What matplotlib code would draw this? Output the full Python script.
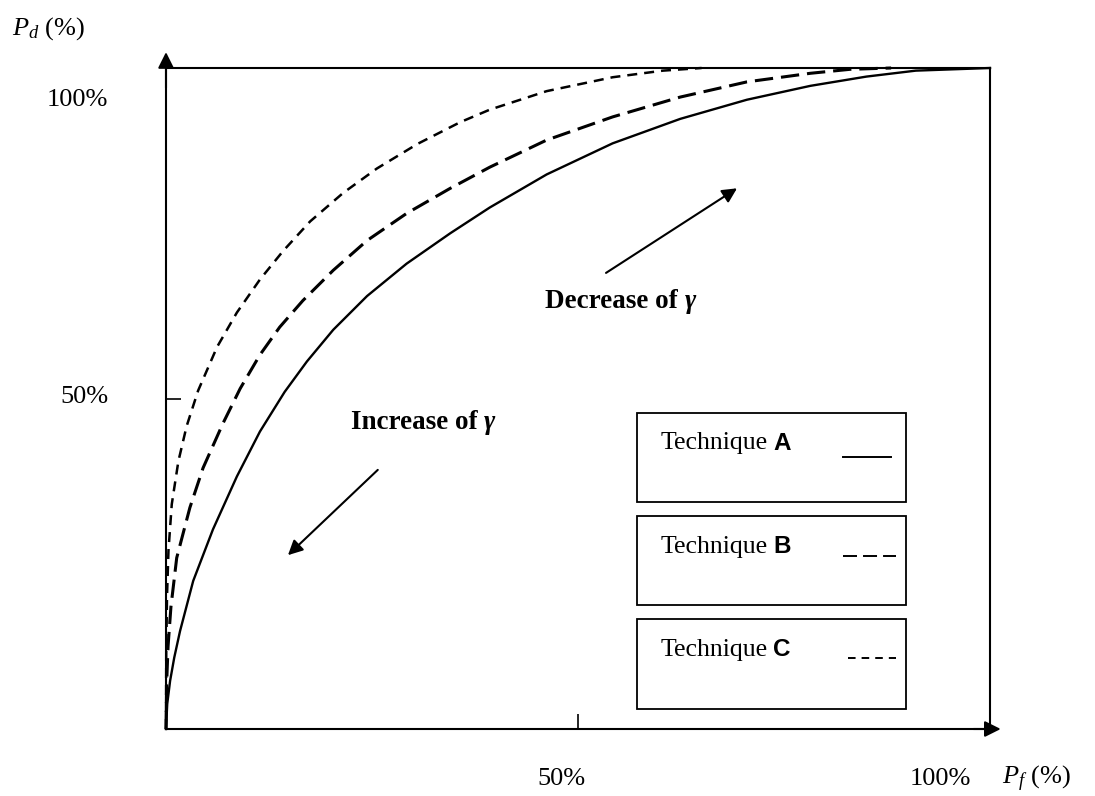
import matplotlib
matplotlib.use('Agg')
import matplotlib.pyplot as plt
from matplotlib.patches import Rectangle

plt.rcParams['font.family'] = ['Liberation Serif', 'DejaVu Serif']
plt.rcParams['mathtext.fontset'] = 'custom'
plt.rcParams['mathtext.rm'] = 'Liberation Serif'
plt.rcParams['mathtext.it'] = 'Liberation Serif:italic'
plt.rcParams['mathtext.bf'] = 'Liberation Serif:bold'

# ROC curves: Pf (%) vs Pd (%)
pf_a = [0, 0.15, 0.5, 1.0, 1.7, 3.3, 5.7, 8.6, 11.4, 14.4, 17.1, 20.3, 24.4, 29.2,
        34.5, 39.3, 46.2, 54.2, 62.4, 70.5, 78.2, 85.0, 91.0, 100]
pd_a = [0, 3.8, 7.3, 10.8, 14.8, 22.4, 30.2, 38.2, 45.0, 51.0, 55.6, 60.4, 65.5, 70.4,
        75.0, 78.9, 83.9, 88.6, 92.3, 95.2, 97.3, 98.7, 99.6, 100]

pf_b = [0, 0.08, 0.25, 0.6, 1.3, 2.9, 4.5, 6.9, 9.0, 11.4, 13.8, 16.6, 20.3, 24.4,
        29.2, 34.5, 39.3, 46.2, 54.2, 62.4, 70.5, 78.2, 83.0, 88.0]
pd_b = [0, 7.0, 12.5, 18.5, 25.9, 33.5, 39.5, 46.2, 51.5, 56.6, 60.8, 64.8, 69.4, 73.9,
        78.0, 81.8, 85.0, 89.1, 92.6, 95.6, 97.9, 99.2, 99.8, 100]

pf_c = [0, 0.03, 0.12, 0.3, 0.7, 1.5, 2.5, 3.9, 6.2, 8.6, 11.4, 14.2, 17.5, 21.5,
        25.6, 30.5, 35.7, 39.3, 46.2, 54.2, 60.3, 65.0]
pd_c = [0, 12.0, 20.0, 27.0, 34.0, 40.5, 45.8, 51.2, 57.8, 63.0, 68.0, 72.3, 76.8, 81.1,
        84.8, 88.5, 91.8, 93.7, 96.5, 98.6, 99.6, 100]

techniques = ['A', 'B', 'C']

fig = plt.figure(figsize=(10.95, 7.96), dpi=100)
ax = fig.add_axes([166 / 1095, 1 - 729 / 796, 824 / 1095, 661 / 796])
ax.set_xlim(0, 100)
ax.set_ylim(0, 100)
for sp in ax.spines.values():
    sp.set_linewidth(1.5)

ax.set_xticks([50])
ax.set_yticks([50])
ax.set_xticklabels([])
ax.set_yticklabels([])
ax.tick_params(direction='in', length=11, width=1.2)

# axis arrow heads
arr = dict(arrowstyle='-|>', mutation_scale=24, lw=1.5, color='black',
           shrinkA=0, shrinkB=0)
ax.annotate('', xy=(101.3, 0), xytext=(98, 0), arrowprops=arr, annotation_clip=False)
ax.annotate('', xy=(0, 102.4), xytext=(0, 97), arrowprops=arr, annotation_clip=False)

# curves
ax.plot(pf_a, pd_a, color='black', lw=1.7, clip_on=False)
ax.plot(pf_b, pd_b, color='black', lw=2.2, dashes=(6, 2.6), clip_on=False)
ax.plot(pf_c, pd_c, color='black', lw=1.8, dashes=(4, 2.8), clip_on=False)

# axis labels
fs = 19
ax.text(-7.0, 95.2, '100%', fontsize=fs, ha='right', va='center')
ax.text(-7.0, 50.2, '50%', fontsize=fs, ha='right', va='center')
ax.text(-18.7, 106, r'$P_d$ (%)', fontsize=fs, ha='left', va='center')
ax.text(48.0, -7.6, '50%', fontsize=fs, ha='center', va='center')
ax.text(94.0, -7.6, '100%', fontsize=fs, ha='center', va='center')
ax.text(101.5, -7.6, r'$P_f$ (%)', fontsize=fs, ha='left', va='center')

# gamma annotations
gs = 19.5
t1 = ax.text(46.0, 64.6, 'Decrease of', fontsize=gs, fontweight='bold',
             ha='left', va='center')
ax.annotate('γ', xy=(1, 0.5), xycoords=t1, xytext=(5, 0), textcoords='offset points',
            fontsize=gs, fontweight='bold', fontstyle='italic', ha='left', va='center')
t2 = ax.text(22.4, 46.4, 'Increase of', fontsize=gs, fontweight='bold',
             ha='left', va='center')
ax.annotate('γ', xy=(1, 0.5), xycoords=t2, xytext=(5, 0), textcoords='offset points',
            fontsize=gs, fontweight='bold', fontstyle='italic', ha='left', va='center')

arr2 = dict(arrowstyle='-|>', mutation_scale=22, lw=1.5, color='black',
            shrinkA=0, shrinkB=0)
ax.annotate('', xy=(69.3, 81.8), xytext=(53.4, 69.0), arrowprops=arr2)
ax.annotate('', xy=(14.8, 26.3), xytext=(25.7, 39.2), arrowprops=arr2)

# legend boxes
box_top = [47.8, 32.2, 16.6]
samples = [(82.2, 88.0, 41.1, None), (82.2, 88.6, 26.2, (7.2, 3.1)),
           (82.8, 88.6, 10.7, (3.9, 3.1))]
for name, top, (x0, x1, ys, dash) in zip(techniques, box_top, samples):
    ax.add_patch(Rectangle((57.2, top - 13.5), 32.6, 13.5, fill=False,
                           lw=1.3, edgecolor='black'))
    tt = ax.text(60.0, top - 4.6, 'Technique', fontsize=18.5, ha='left', va='center')
    ax.annotate(name, xy=(1, 0.5), xycoords=tt, xytext=(4, 0),
                textcoords='offset points', fontsize=17.5, fontweight='bold',
                family='Liberation Sans', ha='left', va='center')
    if dash is None:
        ax.plot([x0, x1], [ys, ys], color='black', lw=1.4)
    else:
        ax.plot([x0, x1], [ys, ys], color='black', lw=1.4, dashes=dash)

fig.savefig('out.png', dpi=100)
